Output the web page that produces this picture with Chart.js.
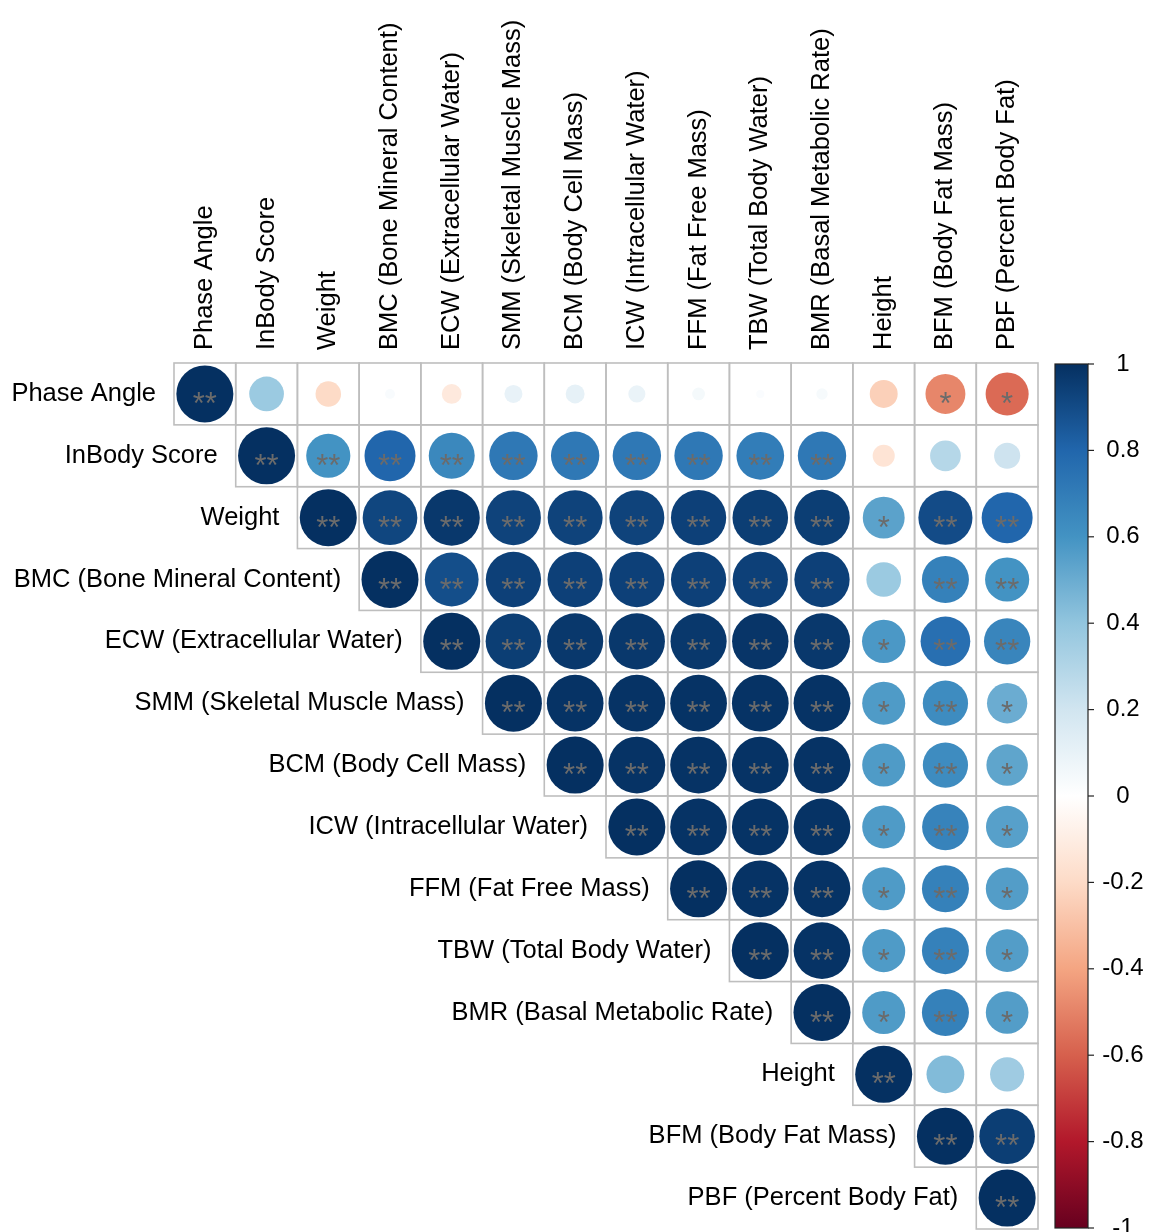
<!DOCTYPE html>
<html>
<head>
<meta charset="utf-8">
<script src="https://cdn.jsdelivr.net/npm/chart.js@4.4.1/dist/chart.umd.min.js"></script>
<style>
  html, body { margin: 0; padding: 0; background: #ffffff; }
  #wrap { width: 1149px; height: 1232px; }
</style>
</head>
<body>
<div id="wrap"><canvas id="c" width="1149" height="1232"></canvas></div>
<script>
// Body-composition variables (same order for rows and columns)
const variables = [
  'Phase Angle', 'InBody Score', 'Weight', 'BMC (Bone Mineral Content)',
  'ECW (Extracellular Water)', 'SMM (Skeletal Muscle Mass)', 'BCM (Body Cell Mass)',
  'ICW (Intracellular Water)', 'FFM (Fat Free Mass)', 'TBW (Total Body Water)',
  'BMR (Basal Metabolic Rate)', 'Height', 'BFM (Body Fat Mass)', 'PBF (Percent Body Fat)'
];

// Upper triangle of the correlation matrix; each row starts at its diagonal
const rPhaseAngle = [1, 0.37, -0.20, 0.03, -0.12, 0.10, 0.11, 0.09, 0.05, 0.02, 0.04, -0.24, -0.49, -0.57];
const rInBody     = [1, 0.60, 0.80, 0.65, 0.72, 0.72, 0.72, 0.72, 0.70, 0.72, -0.15, 0.29, 0.21];
const rWeight     = [1, 0.92, 0.97, 0.93, 0.93, 0.93, 0.94, 0.95, 0.95, 0.54, 0.90, 0.80];
const rBMC        = [1, 0.89, 0.94, 0.94, 0.94, 0.94, 0.94, 0.94, 0.37, 0.68, 0.60];
const rECW        = [1, 0.95, 0.97, 0.97, 0.97, 0.98, 0.97, 0.58, 0.76, 0.66];
const rSMM        = [1, 0.99, 0.99, 0.99, 0.99, 0.99, 0.57, 0.63, 0.50];
const rBCM        = [1, 0.99, 0.99, 0.99, 0.99, 0.57, 0.63, 0.53];
const rICW        = [1, 0.99, 0.99, 0.99, 0.57, 0.67, 0.55];
const rFFM        = [1, 0.99, 0.99, 0.57, 0.68, 0.56];
const rTBW        = [1, 0.99, 0.57, 0.68, 0.56];
const rBMR        = [1, 0.57, 0.68, 0.56];
const rHeight     = [1, 0.44, 0.36];
const rBFM        = [1, 0.95];
const rPBF        = [1];
const corrRows = [rPhaseAngle, rInBody, rWeight, rBMC, rECW, rSMM, rBCM, rICW, rFFM, rTBW, rBMR, rHeight, rBFM, rPBF];

// Significance marks (** p<0.01, * p<0.05), same layout as the correlations
const sPhaseAngle = ['**', '', '', '', '', '', '', '', '', '', '', '', '*', '*'];
const sInBody     = ['**', '**', '**', '**', '**', '**', '**', '**', '**', '**', '', '', ''];
const sWeight     = ['**', '**', '**', '**', '**', '**', '**', '**', '**', '*', '**', '**'];
const sBMC        = ['**', '**', '**', '**', '**', '**', '**', '**', '', '**', '**'];
const sECW        = ['**', '**', '**', '**', '**', '**', '**', '*', '**', '**'];
const sSMM        = ['**', '**', '**', '**', '**', '**', '*', '**', '*'];
const sBCM        = ['**', '**', '**', '**', '**', '*', '**', '*'];
const sICW        = ['**', '**', '**', '**', '*', '**', '*'];
const sFFM        = ['**', '**', '**', '*', '**', '*'];
const sTBW        = ['**', '**', '*', '**', '*'];
const sBMR        = ['**', '*', '**', '*'];
const sHeight     = ['**', '', ''];
const sBFM        = ['**', '**'];
const sPBF        = ['**'];
const sigRows = [sPhaseAngle, sInBody, sWeight, sBMC, sECW, sSMM, sBCM, sICW, sFFM, sTBW, sBMR, sHeight, sBFM, sPBF];

// Colour legend ticks
const legendTicks = [1, 0.8, 0.6, 0.4, 0.2, 0, -0.2, -0.4, -0.6, -0.8, -1];

// Diverging red-blue palette from -1 to 1
const palette = ['#67001F', '#B2182B', '#D6604D', '#F4A582', '#FDDBC7', '#FFFFFF',
                 '#D1E5F0', '#92C5DE', '#4393C3', '#2166AC', '#053061'];

function hexToRgb(h) {
  return [parseInt(h.slice(1, 3), 16), parseInt(h.slice(3, 5), 16), parseInt(h.slice(5, 7), 16)];
}
function colorFor(v) {
  const t = Math.max(0, Math.min(1, (v + 1) / 2)) * (palette.length - 1);
  const i = Math.min(palette.length - 2, Math.floor(t));
  const f = t - i;
  const a = hexToRgb(palette[i]), b = hexToRgb(palette[i + 1]);
  const c = a.map((x, k) => Math.round(x + (b[k] - x) * f));
  return 'rgb(' + c.join(',') + ')';
}

const FONT = '"Liberation Sans", Arial, sans-serif';
const PAD = { left: 174, right: 111, top: 363, bottom: 3 };

// Points for the upper triangle
const points = [];
corrRows.forEach((row, i) => {
  row.forEach((v, k) => {
    points.push({ x: i + k, y: i, v: v, sig: sigRows[i][k] });
  });
});

// Circle radius: area proportional to |r|, nearly filling the cell for |r| = 1
function circleRadius(ctx) {
  const raw = ctx.raw;
  if (!raw) return 0;
  const cell = (ctx.chart.width - PAD.left - PAD.right) / variables.length;
  return 0.462 * cell * Math.sqrt(Math.abs(raw.v));
}
function circleColor(ctx) {
  return ctx.raw ? colorFor(ctx.raw.v) : '#ffffff';
}

// Cell borders of the upper triangle
const gridPlugin = {
  id: 'cellGrid',
  beforeDatasetsDraw(chart) {
    const { ctx, scales: { x, y } } = chart;
    ctx.save();
    ctx.strokeStyle = '#bebebe';
    ctx.lineWidth = 1.6;
    const n = variables.length;
    for (let i = 0; i < n; i++) {
      for (let j = i; j < n; j++) {
        const x0 = x.getPixelForValue(j - 0.5), x1 = x.getPixelForValue(j + 0.5);
        const y0 = y.getPixelForValue(i - 0.5), y1 = y.getPixelForValue(i + 0.5);
        ctx.strokeRect(x0, y0, x1 - x0, y1 - y0);
      }
    }
    ctx.restore();
  }
};

// Significance stars on top of the circles
const starPlugin = {
  id: 'sigStars',
  afterDatasetsDraw(chart) {
    const { ctx } = chart;
    const meta = chart.getDatasetMeta(0);
    ctx.save();
    ctx.fillStyle = '#6b6b6b';
    ctx.font = '31px ' + FONT;
    ctx.textAlign = 'center';
    ctx.textBaseline = 'alphabetic';
    meta.data.forEach((el, idx) => {
      const s = points[idx].sig;
      if (s) ctx.fillText(s, el.x, el.y + 20);
    });
    ctx.restore();
  }
};

// Column labels above the grid, row labels next to the diagonal, colour legend
const sidePlugin = {
  id: 'sideParts',
  afterDraw(chart) {
    const { ctx, chartArea, scales: { x, y } } = chart;
    ctx.save();
    ctx.fillStyle = '#000000';
    ctx.font = '25.5px ' + FONT;

    // column labels, reading bottom to top
    ctx.textAlign = 'left';
    ctx.textBaseline = 'middle';
    variables.forEach((name, j) => {
      ctx.save();
      ctx.translate(x.getPixelForValue(j), chartArea.top - 13);
      ctx.rotate(-Math.PI / 2);
      ctx.fillText(name, 0, 0);
      ctx.restore();
    });

    // row labels
    ctx.textAlign = 'right';
    ctx.textBaseline = 'middle';
    variables.forEach((name, i) => {
      ctx.fillText(name, x.getPixelForValue(i - 0.5) - 18, y.getPixelForValue(i));
    });

    // colour bar
    const bx = chartArea.right + 17, bw = 33;
    const top = chartArea.top + 1, bottom = chartArea.bottom - 1;
    const g = ctx.createLinearGradient(0, top, 0, bottom);
    for (let k = 0; k < palette.length; k++) {
      g.addColorStop(k / (palette.length - 1), palette[palette.length - 1 - k]);
    }
    ctx.fillStyle = g;
    ctx.fillRect(bx, top, bw, bottom - top);
    ctx.strokeStyle = '#222222';
    ctx.lineWidth = 1.2;
    ctx.strokeRect(bx, top, bw, bottom - top);

    ctx.fillStyle = '#000000';
    ctx.textAlign = 'center';
    ctx.font = '24px ' + FONT;
    legendTicks.forEach(t => {
      const ty = top + (1 - t) / 2 * (bottom - top);
      ctx.beginPath();
      ctx.moveTo(bx + bw, ty);
      ctx.lineTo(bx + bw + 6, ty);
      ctx.stroke();
      ctx.fillText(String(t), bx + bw + 35, ty);
    });
    ctx.restore();
  }
};

new Chart(document.getElementById('c'), {
  type: 'bubble',
  data: {
    datasets: [{
      data: points,
      backgroundColor: circleColor,
      borderWidth: 0,
      radius: circleRadius
    }]
  },
  options: {
    responsive: false,
    animation: false,
    events: [],
    layout: { autoPadding: false, padding: PAD },
    plugins: { legend: { display: false }, tooltip: { enabled: false } },
    scales: {
      x: {
        type: 'linear',
        display: false,
        min: -0.5,
        max: variables.length - 0.5
      },
      y: {
        type: 'linear',
        display: false,
        reverse: true,
        min: -0.5,
        max: variables.length - 0.5
      }
    }
  },
  plugins: [gridPlugin, starPlugin, sidePlugin]
});
</script>
</body>
</html>
